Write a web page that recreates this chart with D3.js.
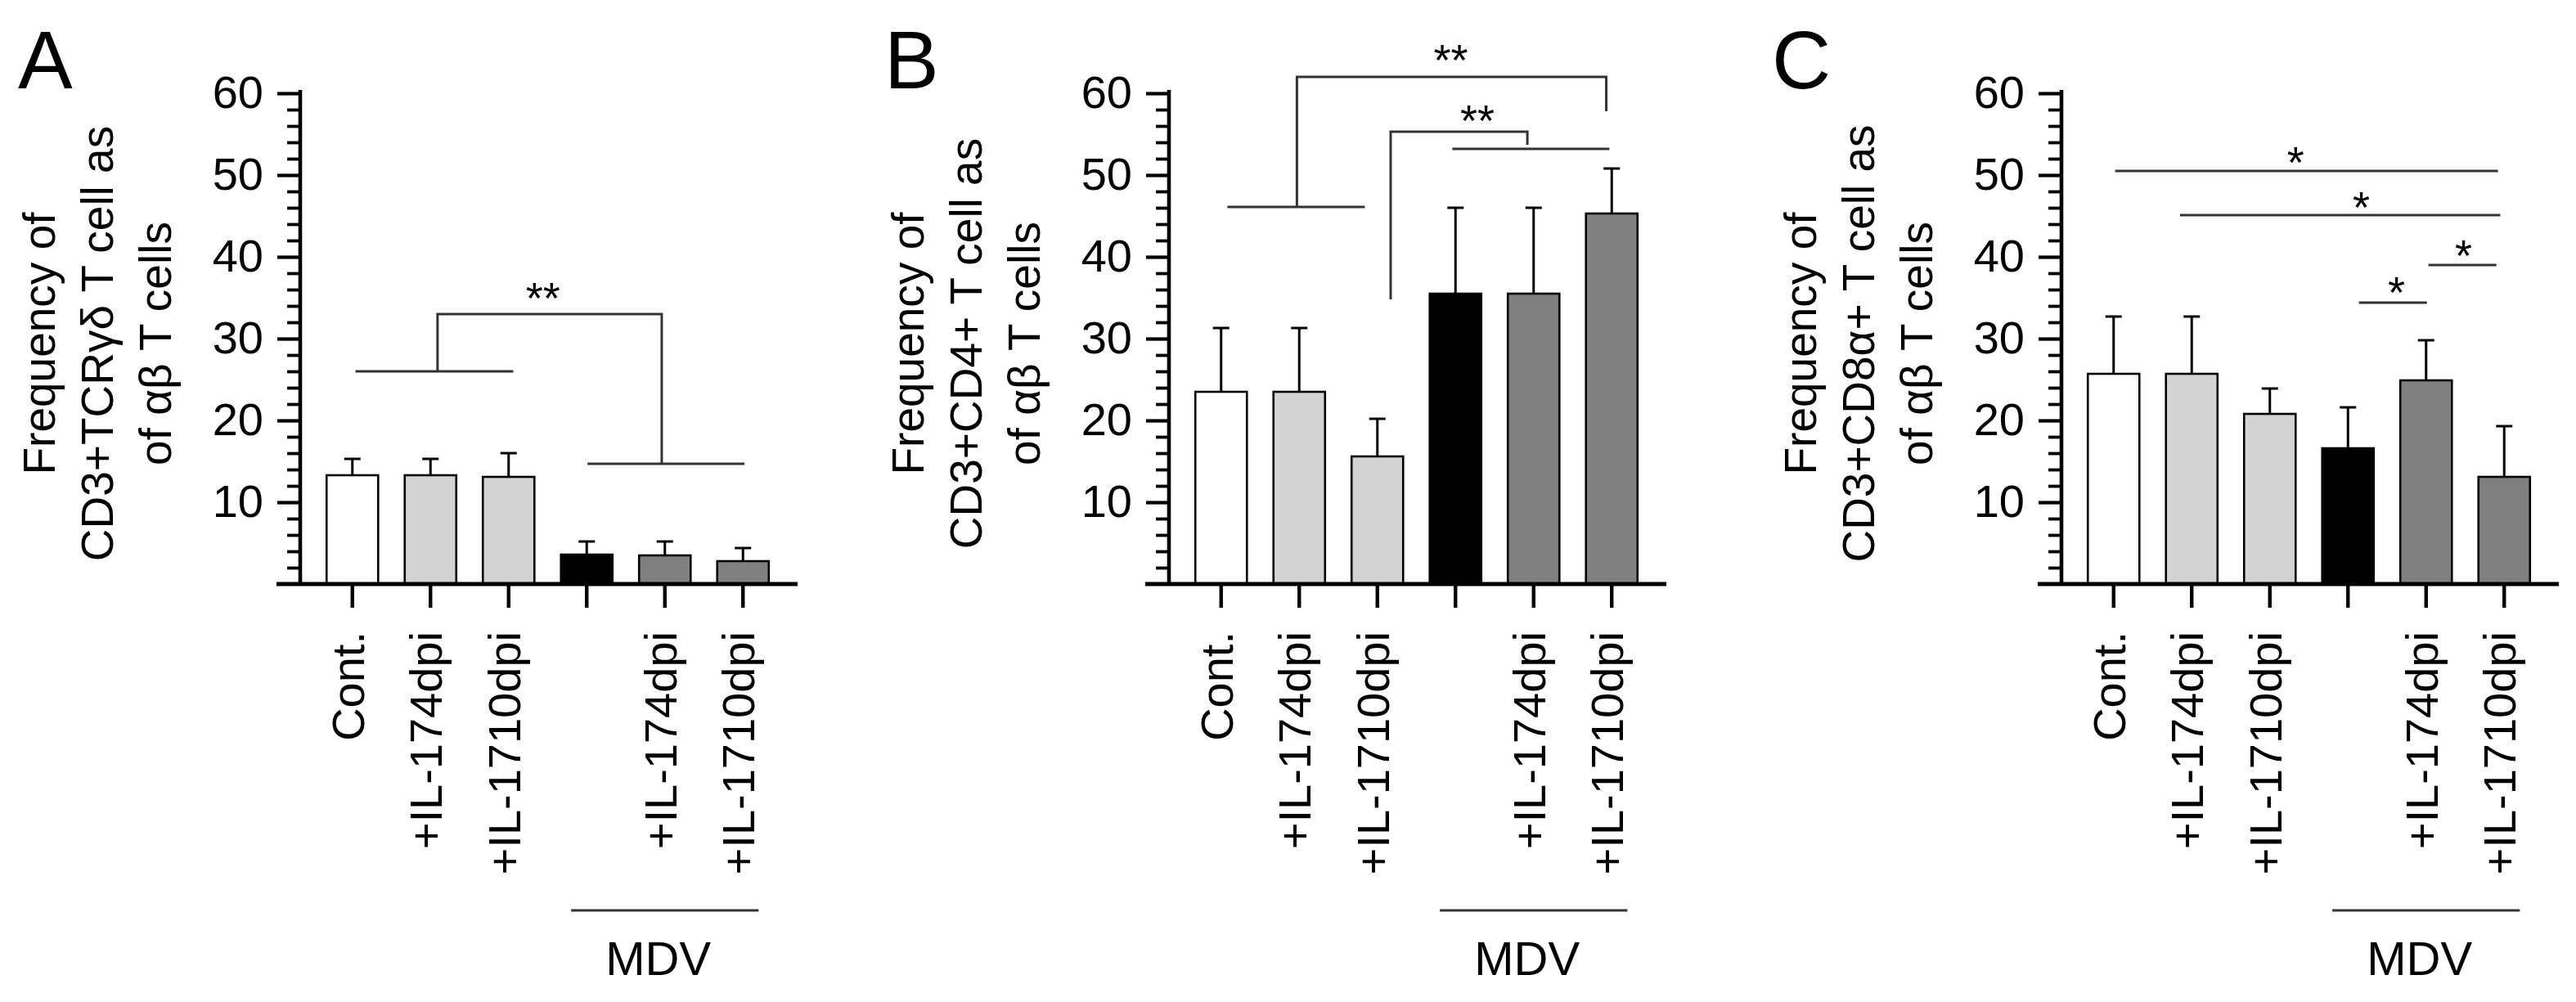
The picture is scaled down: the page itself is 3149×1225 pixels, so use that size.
<!DOCTYPE html>
<html>
<head>
<meta charset="utf-8">
<script src="https://cdn.jsdelivr.net/npm/d3@7"></script>
<style>
  html, body { margin: 0; padding: 0; background: #fff; }
  svg { display: block; font-family: "Liberation Sans", Arial, sans-serif; }
</style>
</head>
<body>
<svg id="chart" width="3149" height="1225"></svg>
<script>
// groups on the x axis (4th bar is MDV alone, no label)
const categories = ['Cont.', '+IL-174dpi', '+IL-1710dpi', 'MDV', '+IL-174dpi', '+IL-1710dpi'];
const tickLabels = ['Cont.', '+IL-174dpi', '+IL-1710dpi', '', '+IL-174dpi', '+IL-1710dpi'];
const barFills = ['#ffffff', '#d3d3d3', '#d3d3d3', '#000000', '#808080', '#808080'];
const yMajor = [10, 20, 30, 40, 50, 60];

// A: CD3+TCRγδ
const meanA = [13.3, 13.3, 13.1, 3.6, 3.5, 2.8];
const errA = [2.0, 2.0, 2.9, 1.6, 1.7, 1.6];
// B: CD3+CD4+
const meanB = [23.5, 23.5, 15.6, 35.5, 35.5, 45.3];
const errB = [7.8, 7.8, 4.6, 10.5, 10.5, 5.5];
// C: CD3+CD8α+
const meanC = [25.7, 25.7, 20.8, 16.6, 24.9, 13.1];
const errC = [7.0, 7.0, 3.1, 5.0, 4.9, 6.2];

// significance marks, x in bar-index units, y in data units
// lines: [fromIdx, toIdx, y]
const linesA = [[0.04, 2.06, 26.0], [3.01, 5.02, 14.7]];
const linesB = [[0.08, 1.84, 46.1], [2.96, 4.97, 53.2]];
const linesC = [[0.02, 4.92, 50.5], [0.85, 4.95, 45.1], [3.14, 4.01, 34.4], [4.03, 4.90, 39.0]];
// brackets: [x1, y1, yTop, x2, y2]
const bracketsA = [[1.09, 26.0, 33.0, 3.96, 14.7]];
const bracketsB = [[0.97, 46.1, 62.0, 4.93, 57.8], [2.17, 34.8, 55.3, 3.92, 53.7]];
const bracketsC = [];
// stars: [xIdx, yCenter, text]
const starsA = [[2.44, 35.6, '**']];
const starsB = [[2.94, 64.7, '**'], [3.28, 57.3, '**']];
const starsC = [[2.33, 52.2, '*'], [3.17, 46.7, '*'], [3.62, 36.3, '*'], [4.48, 40.8, '*']];

const svg = d3.select('#chart');
svg.append('rect').attr('width', 3149).attr('height', 1225).attr('fill', '#fff');

const Y0 = 714, Y60 = 114;
const FS = 56;

function drawPanel(p) {
  const g = svg.append('g');
  const ax = p.axisX;

  const y = d3.scaleLinear().domain([0, 60]).range([Y0, Y60]);
  const x = d3.scaleBand().domain(d3.range(categories.length))
    .range([ax + 16, ax + 589]).paddingInner(0.34).paddingOuter(0.17);
  const cx = i => x(i) + x.bandwidth() / 2;
  const xi = d3.scaleLinear().domain([0, 5]).range([cx(0), cx(5)]);

  // panel letter
  g.append('text').attr('x', p.letterX).attr('y', 108)
    .attr('font-size', 100).text(p.letter);

  // y title
  const yt = g.append('g');
  p.title.forEach((t, k) => {
    yt.append('text')
      .attr('transform', `translate(${ax - 300 + k * 71},420) rotate(-90)`)
      .attr('text-anchor', 'middle').attr('font-size', 55).text(t);
  });

  // bars
  g.selectAll('rect.bar').data(p.mean).join('rect')
    .attr('class', 'bar')
    .attr('x', (d, i) => x(i))
    .attr('y', d => y(d))
    .attr('width', x.bandwidth())
    .attr('height', d => y(0) - y(d))
    .attr('fill', (d, i) => barFills[i])
    .attr('stroke', '#000').attr('stroke-width', 2.6);

  // error bars (upper only)
  const eb = g.append('g').attr('stroke', '#000').attr('stroke-width', 3);
  p.mean.forEach((m, i) => {
    eb.append('line').attr('x1', cx(i)).attr('x2', cx(i))
      .attr('y1', y(m)).attr('y2', y(m + p.err[i]));
    eb.append('line').attr('x1', cx(i) - 10).attr('x2', cx(i) + 10)
      .attr('y1', y(m + p.err[i])).attr('y2', y(m + p.err[i]));
  });

  // y axis: minor + major ticks
  const minor = d3.range(2, 60, 2).filter(v => v % 10 !== 0);
  const gMinor = g.append('g').attr('transform', `translate(${ax},0)`)
    .call(d3.axisLeft(y).tickValues(minor).tickSize(16).tickSizeOuter(0).tickFormat(''));
  gMinor.select('.domain').remove();
  gMinor.selectAll('.tick line').attr('stroke-width', 3.8);

  const gMajor = g.append('g').attr('transform', `translate(${ax},0)`)
    .call(d3.axisLeft(y).tickValues(yMajor).tickSize(28).tickPadding(17).tickSizeOuter(0));
  gMajor.select('.domain').remove();
  gMajor.selectAll('.tick line').attr('stroke-width', 4.2);
  gMajor.selectAll('.tick text').attr('font-size', FS).attr('fill', '#000')
    .attr('font-family', '"Liberation Sans", Arial, sans-serif');

  g.append('line').attr('x1', ax).attr('x2', ax)
    .attr('y1', y(60) - 4).attr('y2', y(0) + 2)
    .attr('stroke', '#000').attr('stroke-width', 4.6);

  // x axis
  const gx = g.append('g').attr('transform', `translate(0,${y(0)})`)
    .call(d3.axisBottom(x).tickSize(29).tickSizeOuter(0).tickFormat(''));
  gx.select('.domain').remove();
  gx.selectAll('.tick line').attr('stroke-width', 4.4);
  g.append('line').attr('x1', ax - 29).attr('x2', x.range()[1] + 19)
    .attr('y1', y(0)).attr('y2', y(0))
    .attr('stroke', '#000').attr('stroke-width', 5);

  // category labels
  g.selectAll('text.cat').data(tickLabels).join('text')
    .attr('class', 'cat')
    .attr('transform', (d, i) => `translate(${cx(i) + 14},772) rotate(-90)`)
    .attr('text-anchor', 'end').attr('font-size', FS).text(d => d);

  // MDV group line and label
  g.append('line').attr('x1', xi(2.8)).attr('x2', xi(5.2))
    .attr('y1', 1113).attr('y2', 1113)
    .attr('stroke', '#333').attr('stroke-width', 3);
  g.append('text').attr('x', (xi(2.8) + xi(5.2)) / 2 - 8).attr('y', 1192)
    .attr('text-anchor', 'middle').attr('font-size', 58).text('MDV');

  // significance
  const sg = g.append('g').attr('stroke', '#333').attr('stroke-width', 3).attr('fill', 'none');
  p.lines.forEach(([a, b, v]) => {
    sg.append('line').attr('x1', xi(a)).attr('x2', xi(b)).attr('y1', y(v)).attr('y2', y(v));
  });
  p.brackets.forEach(([a, v1, top, b, v2]) => {
    sg.append('path').attr('d', d3.line()([[xi(a), y(v1)], [xi(a), y(top)], [xi(b), y(top)], [xi(b), y(v2)]]));
  });
  p.stars.forEach(([a, v, t]) => {
    g.append('text').attr('x', xi(a)).attr('y', y(v) + 0.46 * 54)
      .attr('text-anchor', 'middle').attr('font-size', 54).text(t);
  });
}

drawPanel({ letter: 'A', letterX: 22, axisX: 367, mean: meanA, err: errA,
  title: ['Frequency of', 'CD3+TCRγδ T cell as', 'of αβ T cells'],
  lines: linesA, brackets: bracketsA, stars: starsA });
drawPanel({ letter: 'B', letterX: 1081, axisX: 1429, mean: meanB, err: errB,
  title: ['Frequency of', 'CD3+CD4+ T cell as', 'of αβ T cells'],
  lines: linesB, brackets: bracketsB, stars: starsB });
drawPanel({ letter: 'C', letterX: 2166, axisX: 2520, mean: meanC, err: errC,
  title: ['Frequency of', 'CD3+CD8α+ T cell as', 'of αβ T cells'],
  lines: linesC, brackets: bracketsC, stars: starsC });
</script>
</body>
</html>
